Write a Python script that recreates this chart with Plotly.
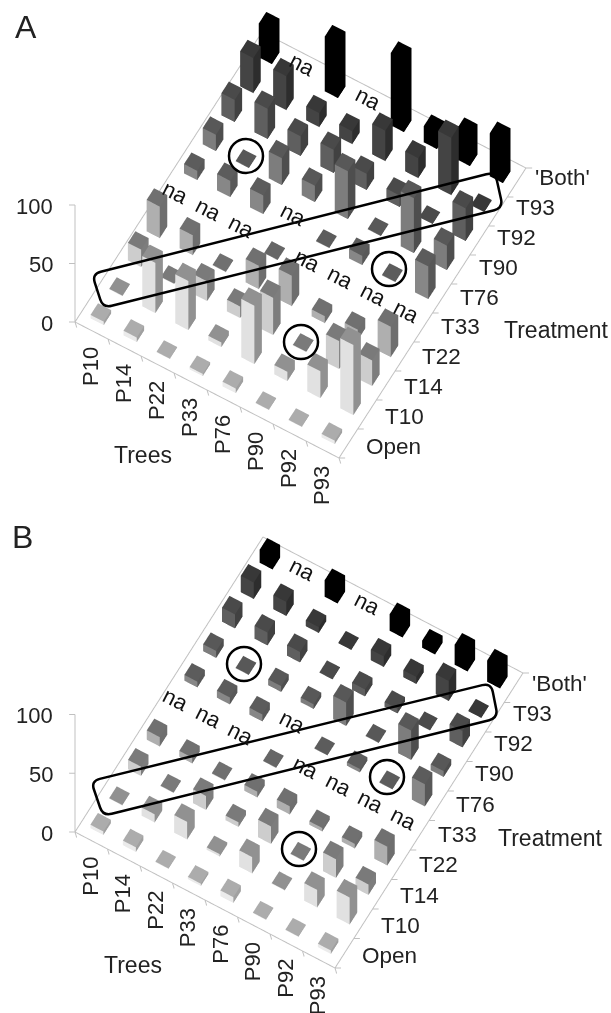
import math
import plotly.graph_objects as go

trees = ["P10", "P14", "P22", "P33", "P76", "P90", "P92", "P93"]
treatments = ["Open", "T10", "T14", "T22", "T33", "T76", "T90", "T92", "T93", "'Both'"]

# Panel A values (None = na)
a_open = [3, 4, 0.5, 2, 4, 0.5, 0.5, 3]
a_t10 = [0.5, 43, 42, 4, 50, 8, 23, 60]
a_t14 = [15, 0.5, 17, 10, 32, 0.5, 24, 22]
a_t22 = [27, 17, 0.5, 20, 26, 6, 9, 26]
a_t33 = [None, None, None, 0.5, None, None, None, None]
a_t76 = [8, 14, 16, None, 0.5, 8, 0.5, 28]
a_t90 = [14, 0.5, 23, 14, 41, 0.5, 47, 21]
a_t92 = [19, 26, 17, 20, 14, 10, 0.5, 28]
a_t93 = [30, 29, 12, 11, 26, 17, 49, 0.5]
a_both = [29, None, 47, None, 62, 14, 26, 37]

# Panel B values (None = na)
b_open = [3, 4, 0.5, 2, 5, 0.5, 0.5, 3]
b_t10 = [0.5, 7, 15, 2, 14, 0.5, 15, 23]
b_t14 = [8, 0.5, 12, 4, 15, 0.5, 16, 9]
b_t22 = [8, 5, 0.5, 5, 7, 3, 4, 16]
b_t33 = [None, None, None, 0.5, None, None, None, None]
b_t76 = [5, 6, 6, None, 0.5, 3, 0.5, 19]
b_t90 = [6, 0.5, 5, 4, 20, 0.5, 25, 5]
b_t92 = [12, 11, 9, 0.5, 6, 4, 0.5, 14]
b_t93 = [14, 12, 5, 0.5, 9, 6, 17, 0.5]
b_both = [11, None, 14, None, 14, 6, 17, 18]

values_a = [a_open, a_t10, a_t14, a_t22, a_t33, a_t76, a_t90, a_t92, a_t93, a_both]
values_b = [b_open, b_t10, b_t14, b_t22, b_t33, b_t76, b_t90, b_t92, b_t93, b_both]

# Grey per treatment for the three visible faces
top_grey = [172, 145, 122, 112, 102, 92, 88, 74, 56, 0]
left_grey = [235, 225, 205, 175, 155, 135, 125, 95, 68, 0]
right_grey = [160, 145, 125, 110, 98, 88, 78, 65, 45, 0]

W, H = 611, 1013
SPLIT = 506
BAR = 0.40
INK = "#222222"
AXIS = "#c0c0c0"
FONT = "Liberation Sans"
VIEW_UNIT = 1.0  # pixels per scene unit, as a share of half the scene height


def grey(v):
    return f"rgb({v},{v},{v})"


def view(origin, xs, ys, zp, top, bottom):
    r1 = [xs[0], ys[0], 0.0]
    r2 = [-xs[1], -ys[1], zp]
    dy = -r1[0] * r2[0] / (r1[1] * r2[1])
    dz = (r1[0] ** 2 + r1[1] ** 2 * dy - r2[0] ** 2 - r2[1] ** 2 * dy) / r2[2] ** 2
    k = (bottom - top) / 2 * VIEW_UNIT
    t = math.hypot(r1[0], r1[1] * math.sqrt(dy)) / k
    s = [t, t / math.sqrt(dy), t / math.sqrt(dz)]
    a = [r1[i] / s[i] / k for i in range(3)]
    b = [r2[i] / s[i] / k for i in range(3)]
    n = [a[1] * b[2] - a[2] * b[1], a[2] * b[0] - a[0] * b[2], a[0] * b[1] - a[1] * b[0]]
    px = origin[0] + 4 * xs[0] + 5 * ys[0]
    py = origin[1] + 4 * xs[1] + 5 * ys[1] - 50 * zp
    dx_c, dy_c = W / 2, (top + bottom) / 2
    c = [a[i] * (dx_c - px) / k + b[i] * (py - dy_c) / k for i in range(3)]
    dist = 4
    return dict(
        domain=dict(x=[0, 1], y=[1 - bottom / H, 1 - top / H]),
        aspectmode="manual",
        aspectratio=dict(x=10 * s[0], y=12 * s[1], z=100 * s[2]),
        camera=dict(
            projection=dict(type="orthographic"),
            up=dict(x=0, y=0, z=1),
            center=dict(x=c[0], y=c[1], z=c[2]),
            eye=dict(x=c[0] + n[0] * dist, y=c[1] + n[1] * dist, z=c[2] + n[2] * dist),
        ),
        bgcolor="rgba(0,0,0,0)",
    )


def bars_mesh(values, scene):
    xs, ys, zs, ii, jj, kk, colors = [], [], [], [], [], [], []
    half = BAR / 2
    for t, row in enumerate(values):
        for p, v in enumerate(row):
            if v is None:
                continue
            cx, cy = p + 0.5, t + 0.5
            n = len(xs)
            for z in (0, v):
                xs += [cx - half, cx + half, cx + half, cx - half]
                ys += [cy - half, cy - half, cy + half, cy + half]
                zs += [z] * 4
            faces = [
                ((4, 5, 6), top_grey), ((4, 6, 7), top_grey),
                ((0, 1, 5), left_grey), ((0, 5, 4), left_grey),
                ((1, 2, 6), right_grey), ((1, 6, 5), right_grey),
            ]
            for (f0, f1, f2), pal in faces:
                ii.append(n + f0)
                jj.append(n + f1)
                kk.append(n + f2)
                colors.append(grey(pal[t]))
    return go.Mesh3d(
        x=xs, y=ys, z=zs, i=ii, j=jj, k=kk, facecolor=colors, flatshading=True,
        lighting=dict(ambient=1, diffuse=0, specular=0, roughness=1, fresnel=0),
        hoverinfo="skip", showscale=False, scene=scene,
    )


def frame_lines(scene):
    nx, ny = len(trees), len(treatments)
    lx = [0, nx, nx, 0, 0, None, 0, 0]
    ly = [0, 0, ny, ny, 0, None, 0, 0]
    lz = [0, 0, 0, 0, 0, None, 0, 100]
    for p in range(nx + 1):  # ticks under the tree edge
        lx += [None, p, p + 0.12]
        ly += [None, 0, -0.12]
        lz += [None, 0, 0]
    for t in range(ny + 1):  # ticks right of the treatment edge
        lx += [None, nx, nx + 0.14]
        ly += [None, t, t + 0.08]
        lz += [None, 0, 0]
    for z in (0, 50, 100):  # ticks left of the height axis
        lx += [None, 0, -0.135]
        ly += [None, 0, -0.08]
        lz += [None, z, z]
    return go.Scatter3d(
        x=lx, y=ly, z=lz, mode="lines", line=dict(color=AXIS, width=2),
        hoverinfo="skip", showlegend=False, scene=scene,
    )


def scene_texts(values):
    out = []
    for p, name in enumerate(trees):
        out.append(dict(x=p + 0.5, y=0, z=0, text=name, showarrow=False, textangle=-90,
                        xanchor="center", yanchor="middle", xshift=-1, yshift=-36,
                        font=dict(family=FONT, size=22, color=INK)))
    for t, name in enumerate(treatments):
        out.append(dict(x=len(trees), y=t + 0.5, z=0, text=name, showarrow=False,
                        xanchor="left", yanchor="middle", xshift=16, yshift=-2.5 + 0.8 * t,
                        font=dict(family=FONT, size=22.5, color=INK)))
    for z in (0, 50, 100):
        out.append(dict(x=0, y=0, z=z, text=str(z), showarrow=False,
                        xanchor="right", yanchor="middle", xshift=-20, yshift=-1,
                        font=dict(family=FONT, size=22, color=INK)))
    for t, row in enumerate(values):
        for p, v in enumerate(row):
            if v is None:
                out.append(dict(x=p + 0.5, y=t + 0.5, z=0, text="na", showarrow=False,
                                textangle=27, xanchor="center", yanchor="middle", yshift=8,
                                font=dict(family=FONT, size=22, color="#111111")))
    return out


def hidden_axis(lo, hi):
    return dict(visible=False, range=[lo, hi], showspikes=False, showgrid=False,
                showbackground=False, zeroline=False)


def finish_scene(base, values):
    base.update(xaxis=hidden_axis(-1, 9), yaxis=hidden_axis(-1, 11), zaxis=hidden_axis(0, 100),
                annotations=scene_texts(values))
    return base


def px(x, y):
    return x / W, 1 - y / H


def box_path(tl, bl, br, tr):
    pts = [tl, bl, br, tr]
    d = ""
    for i in range(4):
        p0, p1, p2 = pts[i - 1], pts[i], pts[(i + 1) % 4]
        l0 = math.dist(p0, p1)
        l2 = math.dist(p2, p1)
        rad = 9
        a = (p1[0] + (p0[0] - p1[0]) * rad / l0, p1[1] + (p0[1] - p1[1]) * rad / l0)
        b = (p1[0] + (p2[0] - p1[0]) * rad / l2, p1[1] + (p2[1] - p1[1]) * rad / l2)
        ax, ay = px(*a)
        cx, cy = px(*p1)
        bx, by = px(*b)
        d += f"{'M' if i == 0 else 'L'} {ax} {ay} Q {cx} {cy} {bx} {by} "
    return d + "Z"


def circle(cx, cy, r=17):
    x0, y0 = px(cx - r, cy - r)
    x1, y1 = px(cx + r, cy + r)
    return dict(type="circle", xref="paper", yref="paper", x0=x0, y0=y0, x1=x1, y1=y1,
                line=dict(color="black", width=2.5), layer="above")


def label(text, x, y, size=23):
    xp, yp = px(x, y)
    return dict(text=text, x=xp, y=yp, xref="paper", yref="paper", showarrow=False,
                xanchor="center", yanchor="middle", font=dict(family=FONT, size=size, color=INK))


fig = go.Figure()
fig.add_trace(bars_mesh(values_a, "scene"))
fig.add_trace(frame_lines("scene"))
fig.add_trace(bars_mesh(values_b, "scene2"))
fig.add_trace(frame_lines("scene2"))

shapes = [
    dict(type="path", xref="paper", yref="paper", layer="above",
         path=box_path((92, 274), (103, 308), (503, 208), (495, 172)),
         line=dict(color="black", width=2.5)),
    dict(type="path", xref="paper", yref="paper", layer="above",
         path=box_path((91, 781), (103, 816), (498, 718), (491, 683)),
         line=dict(color="black", width=2.5)),
    circle(246, 156), circle(389, 269), circle(301, 342),
    circle(244, 664), circle(387, 777), circle(299, 849),
]

fig.update_layout(
    width=W, height=H, margin=dict(l=0, r=0, t=0, b=0), autosize=False,
    paper_bgcolor="white", showlegend=False,
    scene=finish_scene(view((75, 322), (33, 17), (18.7, -29), 1.17, 0, SPLIT), values_a),
    scene2=finish_scene(view((75, 832), (32.5, 17), (18.8, -29.5), 1.175, SPLIT, H), values_b),
    shapes=shapes,
    annotations=[
        label("A", 26, 27, 32), label("B", 22, 537, 32),
        label("Trees", 143, 455), label("Trees", 133, 965),
        label("Treatment", 556, 330), label("Treatment", 550, 838),
    ],
)

fig.write_html("out.html", config=dict(displayModeBar=False),
               post_script="document.body.style.margin='0';document.body.style.overflow='hidden';")
